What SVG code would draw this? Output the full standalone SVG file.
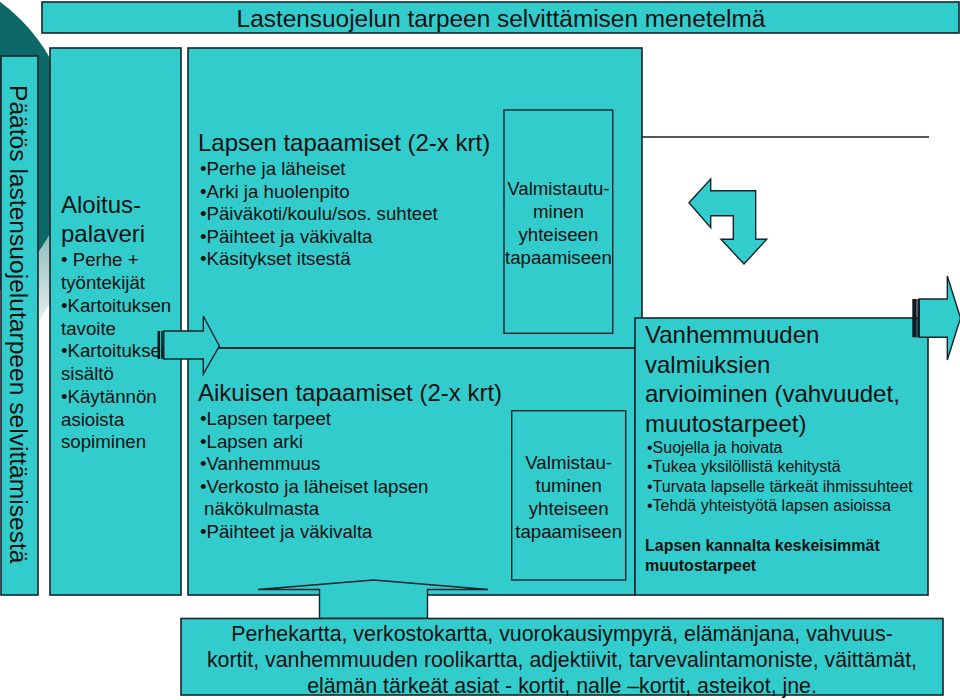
<svg xmlns="http://www.w3.org/2000/svg" width="960" height="700" viewBox="0 0 960 700">
<defs>
<style>
.box{fill:#33CCCC;stroke:#17232b;stroke-width:1.6}
.inner{fill:none;stroke:#17232b;stroke-width:1.4}
.arrow{fill:#33CCCC;stroke:#17232b;stroke-width:1.4;stroke-linejoin:miter}
.bar{fill:#111820}
text{font-family:"Liberation Sans",Arial,Helvetica,sans-serif;fill:#111}
.h{font-size:24px}
.b{font-size:18.67px}
.s{font-size:16px}
.bold{font-size:16px;font-weight:bold}
.m{font-size:21.33px}
.c{text-anchor:middle}
</style>
<linearGradient id="fade" x1="0" y1="0" x2="0" y2="1">
<stop offset="0" stop-color="#8fbcbc"/>
<stop offset="1" stop-color="#e6f0f0"/>
</linearGradient>
</defs>
<rect width="960" height="700" fill="#ffffff"/>
<g id="background">
<path d="M38,252 L50,234 L50,303 L38,323 Z" fill="url(#fade)"/>
<circle cx="-106" cy="146" r="179" fill="#0d6868"/>
</g>
<g id="title">
<rect class="box" x="42" y="2" width="917" height="31"/>
<text class="c" style="font-size:24.4px" x="501" y="26.5">Lastensuojelun tarpeen selvittämisen menetelmä</text>
</g>
<g id="paatos">
<rect class="box" x="1" y="56" width="37" height="539"/>
<text style="font-size:24.6px" transform="translate(10,85) rotate(90)">Päätös lastensuojelutarpeen selvittämisestä</text>
</g>
<g id="aloitus">
<rect class="box" x="50" y="48" width="131" height="547"/>
<text class="h" x="61" y="213">Aloitus-</text>
<text class="h" x="61" y="242">palaveri</text>
<text class="b" x="61" y="266">• Perhe +</text>
<text class="b" x="61" y="289">työntekijät</text>
<text class="b" x="61" y="311.7">•Kartoituksen</text>
<text class="b" x="61" y="335">tavoite</text>
<text class="b" x="61" y="357">•Kartoituksen</text>
<text class="b" x="61" y="380">sisältö</text>
<text class="b" x="61" y="402.7">•Käytännön</text>
<text class="b" x="61" y="426">asioista</text>
<text class="b" x="61" y="448">sopiminen</text>
</g>
<g id="lapsen-tapaamiset">
<rect class="box" x="188" y="48" width="454" height="300"/>
<text class="h" x="198" y="151">Lapsen tapaamiset (2-x krt)</text>
<text class="b" x="200" y="175">•Perhe ja läheiset</text>
<text class="b" x="200" y="197.5">•Arki ja huolenpito</text>
<text class="b" x="200" y="220">•Päiväkoti/koulu/sos. suhteet</text>
<text class="b" x="200" y="242.5">•Päihteet ja väkivalta</text>
<text class="b" x="200" y="265">•Käsitykset itsestä</text>
</g>
<g id="aikuisen-tapaamiset">
<rect class="box" x="188" y="348" width="447" height="247"/>
<text class="h" x="198" y="401">Aikuisen tapaamiset (2-x krt)</text>
<text class="b" x="200" y="425">•Lapsen tarpeet</text>
<text class="b" x="200" y="447.5">•Lapsen arki</text>
<text class="b" x="200" y="470">•Vanhemmuus</text>
<text class="b" x="200" y="492.5">•Verkosto ja läheiset lapsen</text>
<text class="b" x="204" y="515">näkökulmasta</text>
<text class="b" x="200" y="537.5">•Päihteet ja väkivalta</text>
</g>
<g id="valmistautuminen-1">
<rect class="inner" x="504" y="110" width="108.7" height="223.3"/>
<text class="b c" x="558.4" y="194.5">Valmistautu-</text>
<text class="b c" x="558.4" y="217.5">minen</text>
<text class="b c" x="558.4" y="240.5">yhteiseen</text>
<text class="b c" x="558.4" y="263.5">tapaamiseen</text>
</g>
<g id="valmistautuminen-2">
<rect class="inner" x="511.7" y="410.7" width="114" height="169.3"/>
<text class="b c" x="568.7" y="468.5">Valmistau-</text>
<text class="b c" x="568.7" y="491.5">tuminen</text>
<text class="b c" x="568.7" y="514.5">yhteiseen</text>
<text class="b c" x="568.7" y="537.5">tapaamiseen</text>
</g>
<g id="vanhemmuus">
<rect class="box" x="635" y="318" width="293" height="277"/>
<text class="h" x="645" y="343">Vanhemmuuden</text>
<text class="h" x="645" y="372.5">valmiuksien</text>
<text class="h" x="645" y="402">arvioiminen (vahvuudet,</text>
<text class="h" x="645" y="431.5">muutostarpeet)</text>
<text class="s" x="647" y="452.5">•Suojella ja hoivata</text>
<text class="s" x="647" y="472">•Tukea yksilöllistä kehitystä</text>
<text class="s" x="647" y="491.5">•Turvata lapselle tärkeät ihmissuhteet</text>
<text class="s" x="647" y="511">•Tehdä yhteistyötä lapsen asioissa</text>
<text class="bold" x="645" y="551">Lapsen kannalta keskeisimmät</text>
<text class="bold" x="645" y="570.5">muutostarpeet</text>
</g>
<g id="connectors">
<line x1="642" y1="137" x2="929" y2="137" stroke="#17232b" stroke-width="1.5"/>
<line x1="205" y1="347.8" x2="635" y2="347.8" stroke="#17232b" stroke-width="1.6"/>
<rect class="bar" x="157.5" y="331" width="2.6" height="28"/>
<rect class="bar" x="161.2" y="331" width="1.6" height="28"/>
<path class="arrow" d="M163.8,331 L203.3,331 L203.3,316 L219.3,346 L203.3,374 L203.3,359 L163.8,359 Z"/>
<path class="arrow" d="M689,202.7 L710.7,179 L710.7,190.7 L755.7,190.7 L755.7,239.3 L766.7,239.3 L744,264 L721,239.3 L733.3,239.3 L733.3,215.7 L710.7,215.7 L710.7,227.7 Z"/>
<rect class="bar" x="912.3" y="299" width="4.4" height="38.3"/>
<rect class="bar" x="917.3" y="299" width="2" height="38.3"/>
<path class="arrow" d="M919.3,299 L947.3,299 L947.3,276 L960.5,318 L947.3,360 L947.3,337.3 L919.3,337.3 Z"/>
<path class="arrow" d="M319.5,618.5 L319.5,589.5 L258,589.5 L373.5,580 L488,589.5 L427.5,589.5 L427.5,618.5 Z"/>
</g>
<g id="menetelmat">
<rect class="box" x="181" y="618.5" width="762" height="76.5"/>
<text class="m c" x="562" y="640.5">Perhekartta, verkostokartta, vuorokausiympyrä, elämänjana, vahvuus-</text>
<text class="m c" x="562" y="666.5">kortit, vanhemmuuden roolikartta, adjektiivit, tarvevalintamoniste, väittämät,</text>
<text class="m c" x="562" y="692.5">elämän tärkeät asiat - kortit, nalle –kortit, asteikot, jne.</text>
</g>
</svg>
